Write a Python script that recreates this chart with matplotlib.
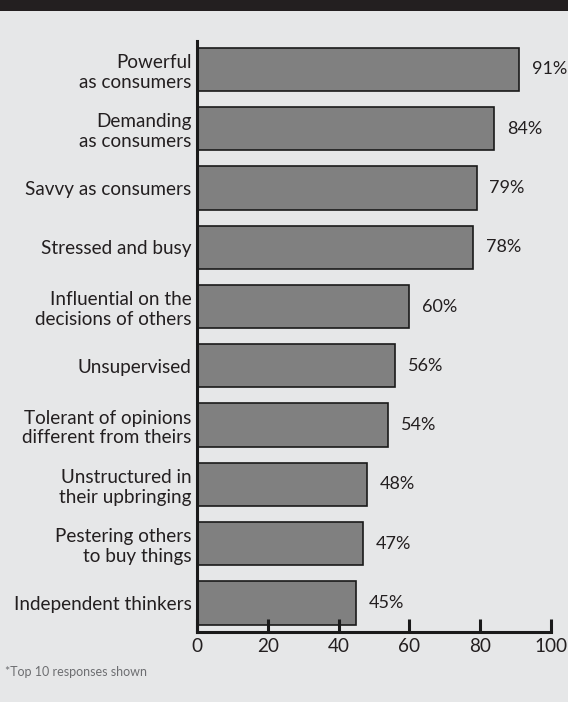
import matplotlib
matplotlib.use('Agg')
import matplotlib.pyplot as plt
from matplotlib.patches import Rectangle

# data
labels = ['Powerful\nas consumers', 'Demanding\nas consumers', 'Savvy as consumers',
          'Stressed and busy', 'Influential on the\ndecisions of others', 'Unsupervised',
          'Tolerant of opinions\ndifferent from theirs', 'Unstructured in\ntheir upbringing',
          'Pestering others\nto buy things', 'Independent thinkers']
values = [91, 84, 79, 78, 60, 56, 54, 48, 47, 45]
xticks = [0, 20, 40, 60, 80, 100]

bg = '#e6e7e8'
plt.rcParams['font.family'] = ['Lato', 'DejaVu Sans']

fig = plt.figure(figsize=(5.68, 7.02), dpi=100, facecolor=bg)
ax = fig.add_axes([0.3468, 0.0997, 0.6232, 0.8419])
ax.set_facecolor(bg)

# dark header band (title text is cropped off in the reference)
fig.patches.append(Rectangle((0, 1 - 11 / 702), 1, 11 / 702, transform=fig.transFigure,
                             facecolor='#231f20', edgecolor='none'))

y = list(range(len(values)))
ax.barh(y, values, height=0.73, color='#808080', edgecolor='#1a1a1a', linewidth=1.2)
for yi, v in zip(y, values):
    ax.annotate('%d%%' % v, (v, yi), xytext=(9, 0), textcoords='offset points',
                va='center', ha='left', fontsize=13, color='#231f20')

ax.set_yticks(y)
ax.set_yticklabels(labels, fontsize=13.6, color='#231f20', linespacing=1.2)
ax.set_ylim(9.49, -0.48)
ax.set_xlim(0, 100)
ax.set_xticks(xticks)
ax.set_xticklabels([str(t) for t in xticks], fontsize=13.6, color='#231f20')

for s in ['top', 'right']:
    ax.spines[s].set_visible(False)
for s in ['left', 'bottom']:
    ax.spines[s].set_linewidth(2.2)
    ax.spines[s].set_color('#1a1a1a')
ax.tick_params(axis='y', length=0, pad=4)
ax.tick_params(axis='x', direction='in', length=9.5, width=2.2, pad=4, color='#1a1a1a')

fig.text(5 / 568, 1 - 672 / 702, '*Top 10 responses shown', fontsize=9,
         color='#6d6e71', va='center', ha='left')

fig.savefig('out.png', dpi=100, facecolor=bg)
